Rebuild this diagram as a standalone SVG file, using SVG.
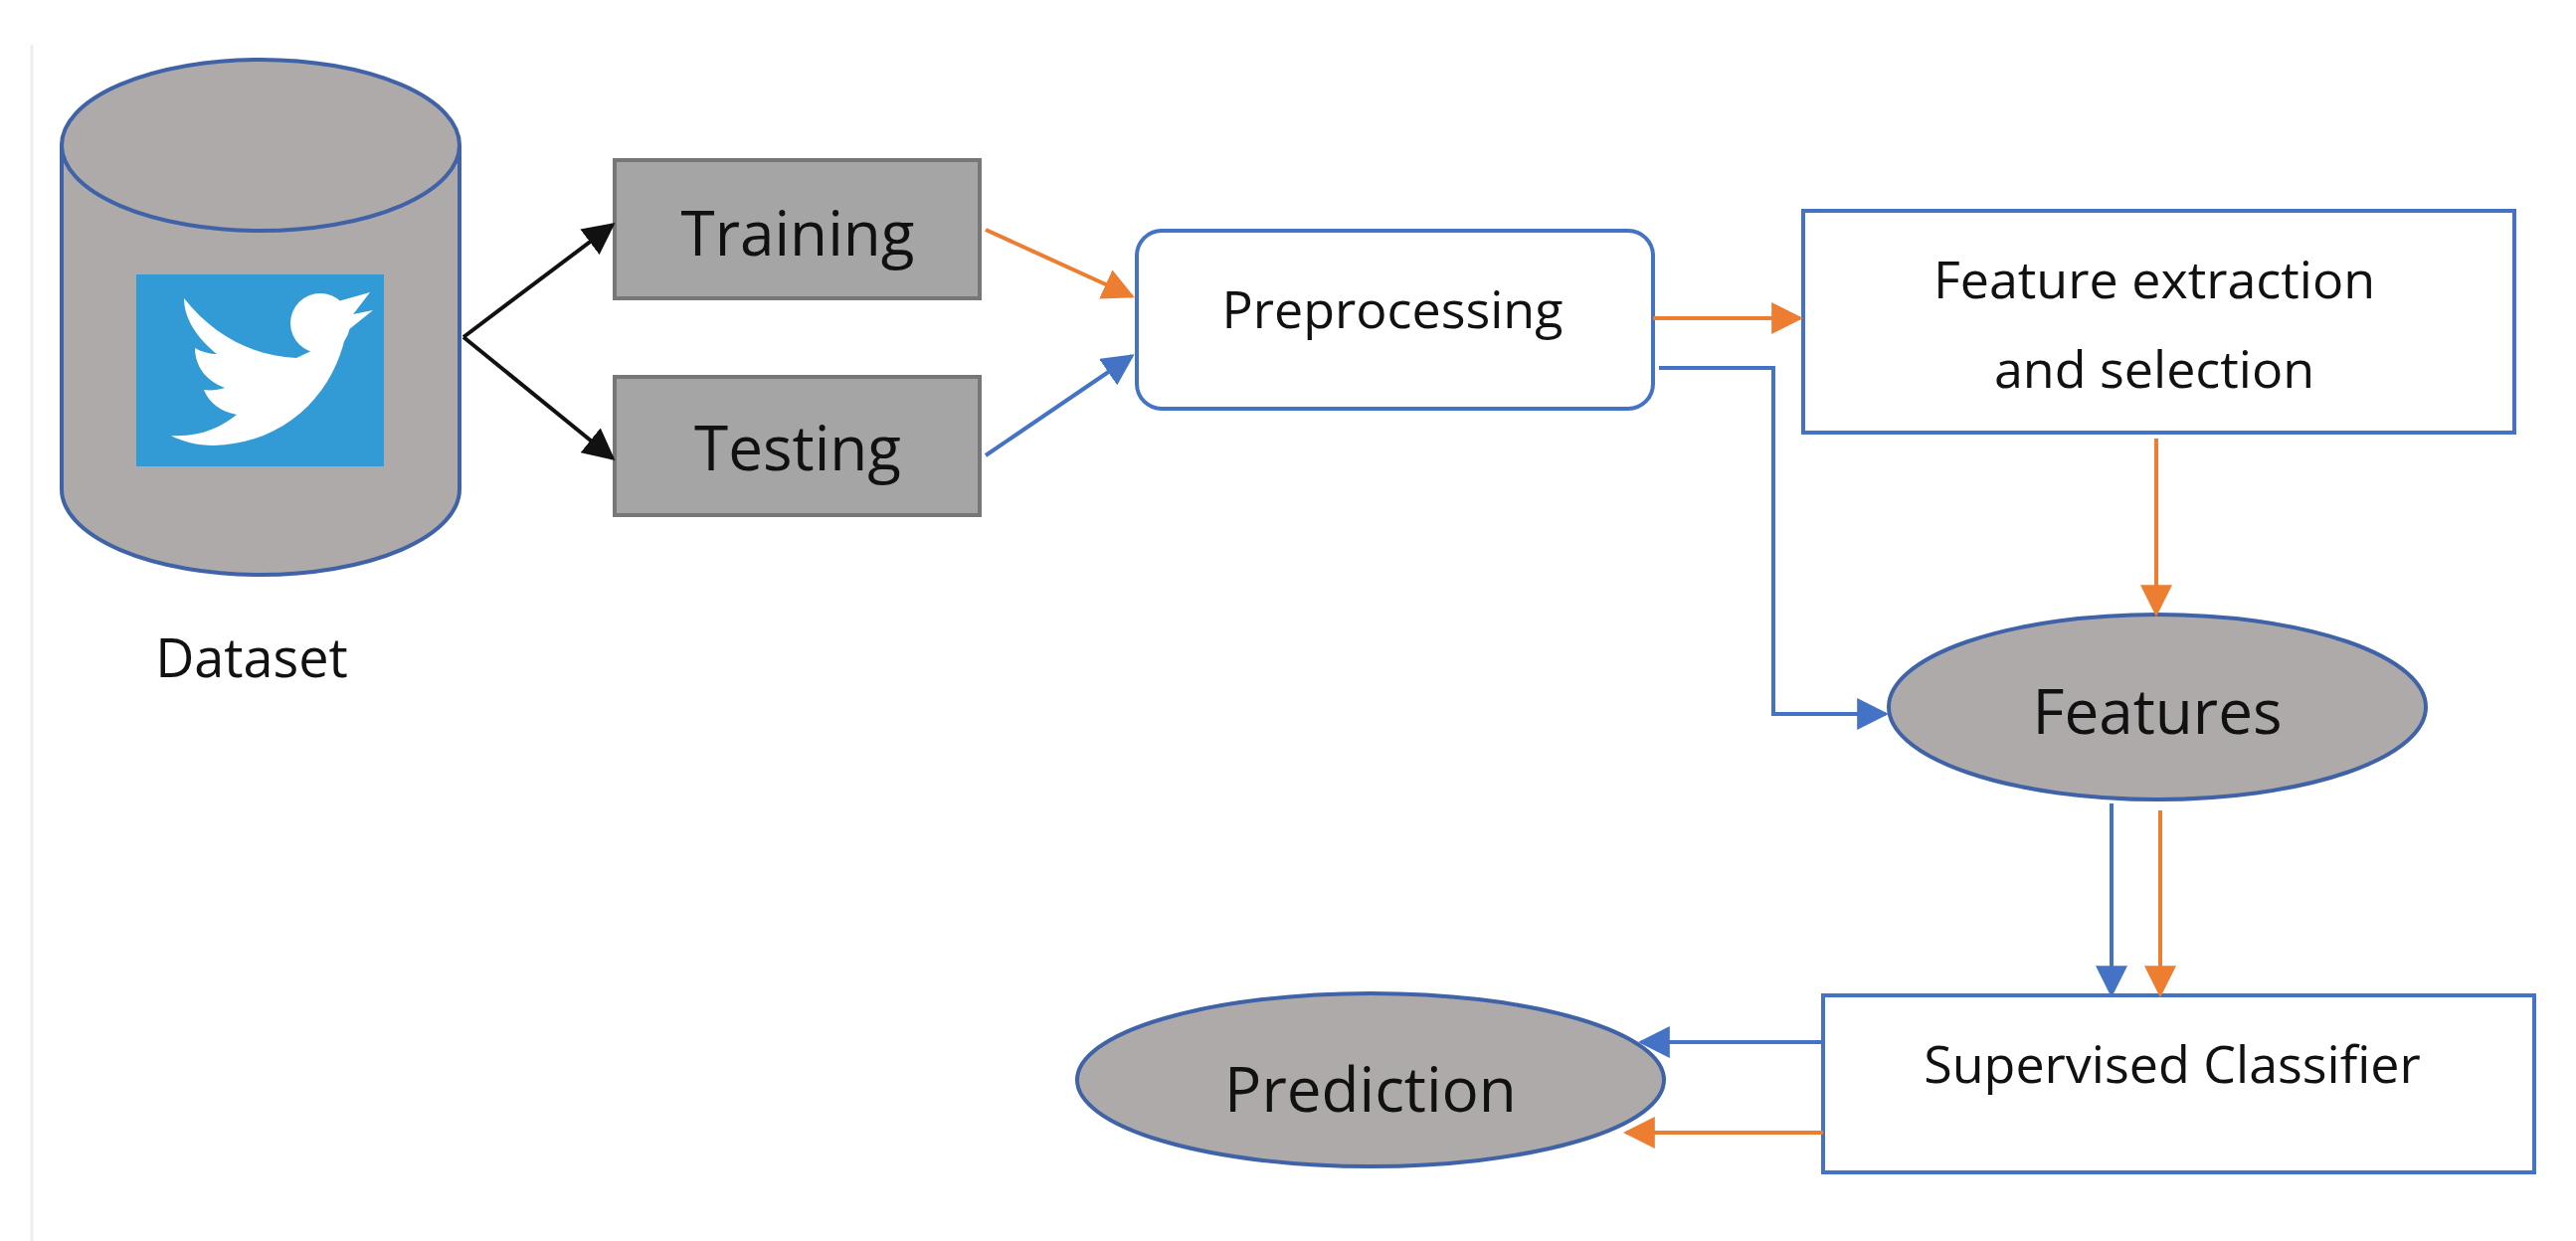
<svg xmlns="http://www.w3.org/2000/svg" width="2590" height="1248" viewBox="0 0 2590 1248">
<style>
text{font-family:"Open Sans","Noto Sans","DejaVu Sans",sans-serif;fill:#111;text-anchor:middle}
.g{fill:#aeaaaa;stroke:#3f63a6;stroke-width:4}
.w{fill:#fff;stroke:#4472c4;stroke-width:4}
.gb{fill:#a5a5a5;stroke:#777;stroke-width:4}
.b{stroke:#4472c4;stroke-width:4;fill:none}
.o{stroke:#ed7d31;stroke-width:4;fill:none}
.k{stroke:#111;stroke-width:4;fill:none}
</style>
<defs>
<marker id="ab" viewBox="0 0 10 10" refX="9" refY="5" markerWidth="8" markerHeight="8" orient="auto" markerUnits="strokeWidth"><path d="M0,0L10,5L0,10z" fill="#4472c4"/></marker>
<marker id="ao" viewBox="0 0 10 10" refX="9" refY="5" markerWidth="8" markerHeight="8" orient="auto" markerUnits="strokeWidth"><path d="M0,0L10,5L0,10z" fill="#ed7d31"/></marker>
<marker id="ak" viewBox="0 0 10 10" refX="9" refY="5" markerWidth="8" markerHeight="8" orient="auto" markerUnits="strokeWidth"><path d="M0,0L10,5L0,10z" fill="#111"/></marker>
</defs>
<rect width="2590" height="1248" fill="#fff"/>
<line x1="32" y1="45" x2="32" y2="1248" stroke="#eee" stroke-width="3"/>
<g id="dataset">
<path class="g" d="M62,146 L62,492 A200,86 0 0 0 462,492 L462,146"/>
<ellipse class="g" cx="262" cy="146" rx="200" ry="86"/>
<rect x="137" y="276" width="249" height="193" fill="#329bd5"/>
<g fill="#fff">
<path d="M185,300 C215,338 255,358 298,360 L330,345 L350,320 C345,380 300,445 215,448 C198,448 183,444 172,438 C200,440 222,430 238,417 C222,414 210,405 205,392 C212,393 220,392 226,390 C207,383 196,368 196,350 C203,354 211,356 218,356 C198,340 185,320 185,300Z"/>
<circle cx="322" cy="325" r="30"/>
<path d="M340,303 L372,294 L352,320Z M345,318 L375,312 L350,332Z"/>
</g>
<text x="253" y="681" font-size="54">Dataset</text>
</g>
<g id="training"><rect class="gb" x="618" y="161" width="367" height="139"/><text x="802" y="257" font-size="62">Training</text></g>
<g id="testing"><rect class="gb" x="618" y="379" width="367" height="139"/><text x="802" y="473" font-size="62">Testing</text></g>
<g id="preprocessing"><rect class="w" x="1143" y="232" width="519" height="179" rx="25"/><text x="1400" y="330" font-size="52">Preprocessing</text></g>
<g id="feature-extraction"><rect class="w" x="1813" y="212" width="715" height="223"/><text x="2166" y="300" font-size="52">Feature extraction</text><text x="2166" y="390" font-size="52">and selection</text></g>
<g id="features"><ellipse class="g" cx="2169" cy="711" rx="270" ry="93"/><text x="2169" y="738" font-size="62">Features</text></g>
<g id="classifier"><rect class="w" x="1833" y="1001" width="715" height="178"/><text x="2184" y="1089" font-size="52">Supervised Classifier</text></g>
<g id="prediction"><ellipse class="g" cx="1378" cy="1086" rx="295" ry="87"/><text x="1378" y="1118" font-size="62">Prediction</text></g>
<g id="connectors">
<line class="k" x1="466" y1="339" x2="616" y2="226" marker-end="url(#ak)"/>
<line class="k" x1="466" y1="339" x2="616" y2="461" marker-end="url(#ak)"/>
<line class="o" x1="991" y1="231" x2="1138" y2="298" marker-end="url(#ao)"/>
<line class="b" x1="991" y1="458" x2="1138" y2="358" marker-end="url(#ab)"/>
<line class="o" x1="1662" y1="320" x2="1810" y2="320" marker-end="url(#ao)"/>
<polyline class="b" points="1668,370 1783,370 1783,718 1896,718" marker-end="url(#ab)"/>
<line class="o" x1="2168" y1="441" x2="2168" y2="617" marker-end="url(#ao)"/>
<line class="b" x1="2123" y1="808" x2="2123" y2="1000" marker-end="url(#ab)"/>
<line class="o" x1="2172" y1="815" x2="2172" y2="1000" marker-end="url(#ao)"/>
<line class="b" x1="1833" y1="1048" x2="1650" y2="1048" marker-end="url(#ab)"/>
<line class="o" x1="1833" y1="1139" x2="1635" y2="1139" marker-end="url(#ao)"/>
</g>
</svg>
